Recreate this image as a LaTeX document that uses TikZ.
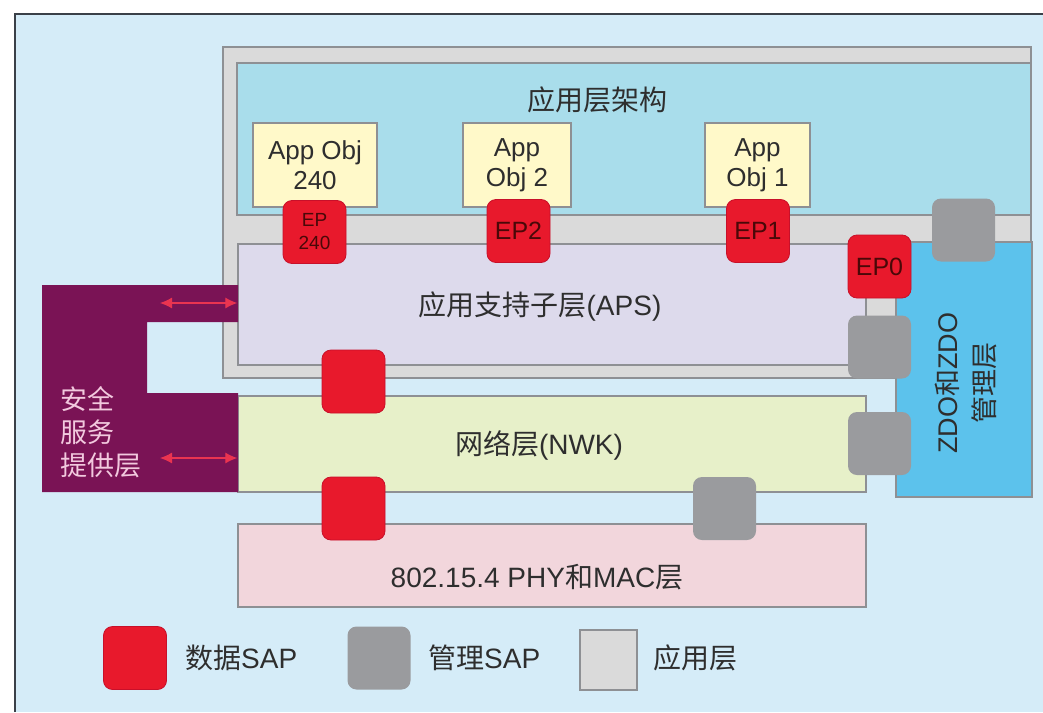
\documentclass[tikz,border=0pt]{standalone}
\usepackage{fontspec}
\setmainfont{Liberation Sans}
\newfontfamily\cjkfont{Noto Sans CJK SC}
\newcommand\zh[1]{{\cjkfont #1}}
\usetikzlibrary{arrows.meta}
\definecolor{bgblue}{HTML}{D5ECF8}
\definecolor{framedark}{HTML}{3A4048}
\definecolor{appgray}{HTML}{DADADA}
\definecolor{linegray}{HTML}{8E9094}
\definecolor{fwblue}{HTML}{A9DDEB}
\definecolor{objyellow}{HTML}{FFF9C9}
\definecolor{apslav}{HTML}{DDDAEC}
\definecolor{nwkgreen}{HTML}{E7F0C9}
\definecolor{macpink}{HTML}{F2D6DC}
\definecolor{zdoblue}{HTML}{5CC2EC}
\definecolor{sapred}{HTML}{E8192C}
\definecolor{sapredd}{HTML}{C8102A}
\definecolor{sapgray}{HTML}{9A9B9E}
\definecolor{secpurple}{HTML}{7A1355}
\definecolor{secpink}{HTML}{F2C9DE}
\definecolor{arrred}{HTML}{EA3450}
\definecolor{txtc}{HTML}{2E2E2E}
\definecolor{eptxt}{HTML}{4A0808}
\begin{document}
\begin{tikzpicture}[x=1pt,y=-1pt,
  box/.style={draw=linegray, line width=1.3pt, inner sep=0pt},
  sapbox/.style={rounded corners=9pt, minimum width=63pt, minimum height=63pt, inner sep=0pt},
  dsap/.style={sapbox, fill=sapred, draw=sapredd, line width=0.8pt, text=eptxt, font=\fontsize{25}{27}\selectfont},
  msap/.style={sapbox, fill=sapgray},
  txt/.style={text=txtc, font=\fontsize{28}{32}\selectfont, inner sep=0pt},
  objbox/.style={box, fill=objyellow, minimum height=84pt, align=center, text=txtc, font=\fontsize{26}{30}\selectfont},
  secarrow/.style={arrred, line width=1.2pt, {Latex[length=12pt,width=11pt]}-{Latex[length=12pt,width=11pt]}}
]
\useasboundingbox (0,0) rectangle (1043,712);
\fill[white] (0,0) rectangle (1043,712);
\fill[bgblue] (15,14) rectangle (1043,712);
\draw[framedark, line width=2.5pt] (15,712) -- (15,14) -- (1043,14);

% application layer frame and framework
\node[box, fill=appgray, minimum width=808pt, minimum height=331pt] (app) at (627,212.5) {};
\node[box, fill=fwblue, minimum width=794pt, minimum height=152pt] (fw) at (634,139) {};
\node[txt] (fwt) at (597,100) {\zh{应用层架构}};

% application objects
\node[objbox, minimum width=124pt] (obj240) at (315,165) {App Obj\\240};
\node[objbox, minimum width=108pt] (obj2) at (517,165) {App\\Obj 2};
\node[objbox, minimum width=105pt] (obj1) at (757.5,165) {App\\Obj 1};

% layers
\node[box, fill=apslav, minimum width=628pt, minimum height=121pt] (aps) at (552,304.5) {};
\node[box, fill=nwkgreen, minimum width=628pt, minimum height=96pt] (nwk) at (552,444) {};
\node[box, fill=macpink, minimum width=628pt, minimum height=83pt] (mac) at (552,565.5) {};
\node[box, fill=zdoblue, minimum width=136pt, minimum height=255pt] (zdo) at (964,369.5) {};

\node[txt] (apst) at (540,307) {\zh{应用支持子层}(APS)};
\node[txt] (nwkt) at (539,445) {\zh{网络层}(NWK)};
\node[txt] (mact) at (537,577) {802.15.4 PHY\zh{和}MAC\zh{层}};
\node[txt, rotate=90, align=center, font=\fontsize{27}{37}\selectfont] (zdot) at (966,383) {ZDO\zh{和}ZDO\\\zh{管理层}};

% security service provider
\fill[secpurple] (42,285) -- (238,285) -- (238,322) -- (147,322) -- (147,393) -- (238,393) -- (238,492) -- (42,492) -- cycle;
\node[txt, text=secpink, anchor=north west, align=left, font=\fontsize{27}{33}\selectfont] (sect) at (60,386) {\zh{安全}\\\zh{服务}\\\zh{提供层}};
\coordinate (sa1) at (160,303);
\coordinate (sa2) at (160,458);
\draw[secarrow] (sa1) -- (sa1 -| aps.west);
\draw[secarrow] (sa2) -- (sa2 -| nwk.west);

% data SAPs
\node[dsap, font=\fontsize{19}{23}\selectfont, align=center] (ep240) at (314.5,232) {EP\\240};
\node[dsap] (ep2) at (518.5,231) {EP2};
\node[dsap] (ep1) at (758,231) {EP1};
\node[dsap] (ep0) at (879.5,266.5) {EP0};
\node[dsap] (dsap1) at (353.5,381.5) {};
\node[dsap] (dsap2) at (353.5,508.5) {};

% management SAPs
\node[msap] (msap1) at (963.5,230) {};
\node[msap] (msap2) at (879.5,347) {};
\node[msap] (msap3) at (879.5,443.5) {};
\node[msap] (msap4) at (724.5,508.5) {};

% legend
\node[dsap] (lgd) at (135,658) {};
\node[txt, anchor=west] (lgdt) at (185,658) {\zh{数据}SAP};
\node[msap] (lgm) at (379,658) {};
\node[txt, anchor=west] (lgmt) at (428,658) {\zh{管理}SAP};
\node[box, fill=appgray, minimum width=57pt, minimum height=60pt] (lga) at (608.5,660) {};
\node[txt, anchor=west] (lgat) at (653,658) {\zh{应用层}};
\end{tikzpicture}
\end{document}
